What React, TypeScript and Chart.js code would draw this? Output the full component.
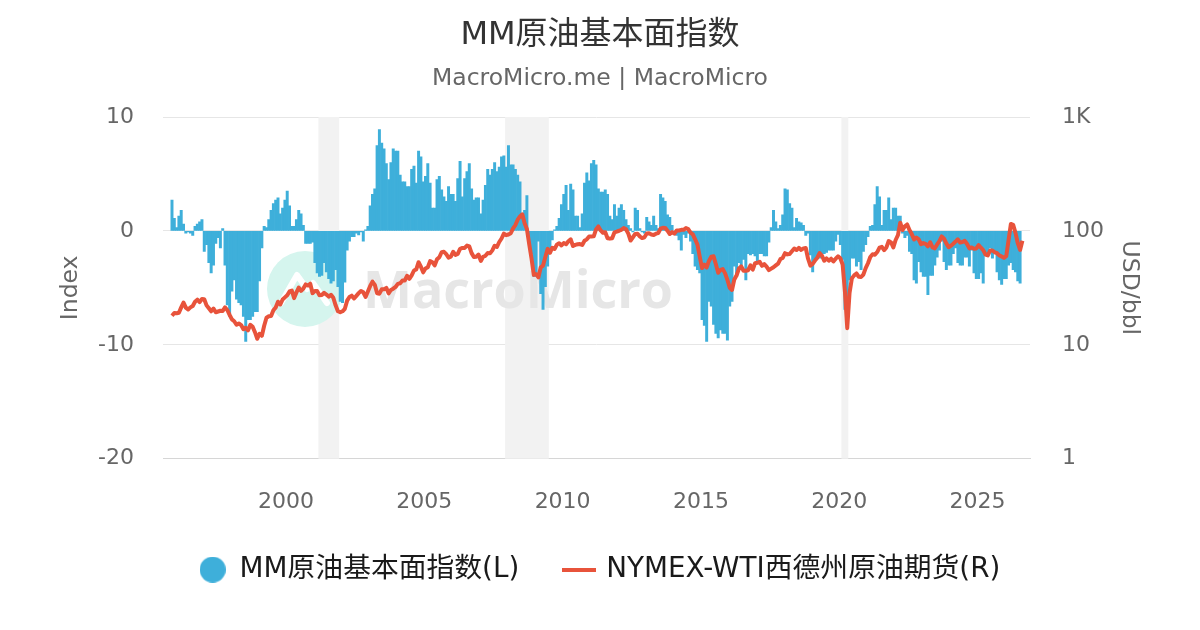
import React, { useRef, useEffect } from "react";
import Chart from "chart.js/auto";

const FONT = "'DejaVu Sans', 'Noto Sans CJK SC', sans-serif";

// monthly series, first value = Nov 1995
const startYear = 1995;
const startMonth = 10;

// MM原油基本面指数 (left axis)
const indexValues = [
  2.7, 1.1,
  0.3, 1.3, 1.8, 0.6, -0.2, -0.1, -0.2, -0.4, 0.4, 0.6, 0.8, 1.0,
  -1.8, -1.2, -2.8, -3.7, -3.0, -1.1, -0.6, -1.5, 0.2, -3.0, -6.5, -7.5,
  -5.3, -4.3, -6.0, -6.3, -6.5, -7.5, -9.7, -7.8, -7.8, -7.5, -7.1, -7.1,
  -4.4, -1.5, 0.4, 0.3, 1.0, 1.8, 2.4, 2.7, 2.9, 1.5, 2.0, 2.7,
  3.5, 2.2, 0.4, 0.4, 1.0, 1.8, 1.5, 0.5, -1.1, -1.1, -1.1, -1.0,
  -2.8, -3.7, -4.0, -3.9, -2.8, -3.6, -4.2, -4.6, -4.4, -3.4, -4.9, -6.2,
  -6.3, -4.5, -1.7, -0.9, -0.5, -0.5, -0.2, -0.35, -0.1, -0.9, 0.1, 0.4,
  2.2, 3.2, 3.7, 7.5, 8.9, 7.7, 7.2, 5.9, 4.5, 6.0, 7.2, 7.0,
  7.0, 4.9, 4.3, 4.3, 3.9, 3.9, 5.4, 5.7, 4.2, 7.0, 6.5, 4.3,
  4.8, 5.9, 4.2, 2.0, 2.0, 4.5, 4.8, 3.6, 3.0, 2.6, 3.9, 3.2,
  3.2, 2.6, 4.6, 6.1, 3.0, 4.6, 5.2, 5.9, 3.7, 2.7, 2.9, 2.9,
  1.5, 2.7, 4.0, 5.4, 4.9, 5.4, 6.0, 5.2, 5.6, 6.5, 6.6, 5.6,
  7.5, 5.8, 5.8, 5.4, 4.9, 4.3, 1.5, 1.8, 3.1, -0.5, -2.0, -4.0,
  -4.0, -0.9, -5.5, -6.9, -4.9, -3.1, -1.7, -0.8, 0.1, 0.4, 1.1, 2.3,
  3.2, 4.0, 1.8, 4.1, 3.6, 1.3, 1.3, 0.3, 1.5, 4.2, 5.1, 4.4,
  5.9, 6.2, 5.8, 3.7, 3.4, 3.4, 3.6, 3.2, 1.3, 1.0, 2.3, 1.3,
  2.0, 2.3, 1.8, 1.0, 0.5, 0.2, -0.1, 2.0, 1.8, 0.2, -0.1, -0.2,
  1.2, 0.8, 0.5, 1.3, 0.5, 0.2, 3.2, 2.9, 2.6, 1.4, 1.2, 0.5,
  -0.2, -0.4, -0.8, -1.7, -0.3, -0.6, -0.2, -0.9, -2.0, -3.1, -3.4, -3.7,
  -7.8, -8.3, -9.7, -6.2, -6.6, -8.2, -9.0, -9.4, -8.7, -9.0, -9.0, -9.6,
  -6.6, -6.2, -3.1, -4.0, -2.8, -3.4, -2.5, -4.3, -2.0, -2.1, -2.0, -2.2,
  -2.7, -2.0, -2.0, -2.2, -2.2, -1.0, 0.3, 1.8, 0.8, 0.2, 0.5, 1.4,
  3.7, 3.6, 2.4, 2.0, 0.3, 1.1, 0.8, 0.7, 0.5, -0.4, -0.2, -2.1,
  -3.6, -2.6, -2.4, -2.4, -2.0, -2.0, -1.9, -1.7, -1.7, -1.7, -0.9, -0.3,
  -1.2, -2.5, -6.9, -7.5, -4.3, -2.4, -2.4, -3.1, -2.7, -3.4, -1.8, -1.2,
  -0.5, 0.4, 0.5, 2.3, 3.9, 3.0, 0.5, 1.8, 1.8, 2.9, 1.0, 2.0,
  2.0, 1.3, 1.3, -0.2, -0.6, -0.4, -1.8, -2.0, -4.3, -4.6, -2.7, -3.6,
  -4.0, -4.0, -5.6, -3.9, -3.9, -3.0, -2.3, -1.7, -0.9, -2.7, -3.4, -3.0,
  -3.0, -2.0, -1.5, -2.8, -3.0, -3.0, -2.3, -2.3, -3.1, -1.7, -3.7, -4.2,
  -4.2, -3.7, -4.6, -2.1, -2.1, -1.5, -2.4, -2.0, -3.6, -4.3, -4.7, -4.2,
  -4.2, -3.0, -2.8, -3.4, -3.6, -4.4, -4.6,
];

// NYMEX-WTI西德州原油期货, USD/bbl (right axis, log)
const wtiValues = [
  18.0, 19.0,
  18.9, 19.1, 21.3, 23.5, 21.2, 20.4, 21.3, 21.9, 23.9, 24.9, 23.7, 25.2,
  25.1, 22.2, 20.9, 19.7, 20.8, 19.3, 19.6, 19.9, 19.8, 21.3, 20.2, 18.3,
  16.7, 16.1, 15.0, 15.4, 14.9, 13.7, 14.1, 13.4, 15.0, 14.4, 12.9, 11.3,
  12.5, 12.0, 14.7, 17.3, 17.8, 17.9, 20.1, 21.3, 23.9, 22.6, 25.0, 26.1,
  27.2, 29.4, 29.9, 25.7, 28.8, 31.8, 29.7, 31.2, 33.9, 33.1, 34.4, 28.4,
  29.6, 29.6, 27.2, 27.4, 28.6, 27.6, 26.5, 27.5, 25.9, 22.2, 19.7, 19.3,
  19.7, 20.7, 24.4, 26.3, 27.0, 25.5, 26.9, 28.4, 29.7, 28.9, 26.3, 29.4,
  32.9, 35.9, 33.6, 28.3, 28.1, 30.7, 30.8, 31.6, 28.3, 30.3, 31.1, 32.2,
  34.3, 34.7, 36.7, 36.7, 40.3, 38.0, 40.7, 44.9, 45.9, 53.1, 48.5, 43.3,
  46.8, 48.0, 54.3, 53.0, 49.8, 56.3, 58.7, 65.0, 65.6, 62.4, 58.3, 59.4,
  65.5, 61.6, 62.9, 69.7, 70.9, 70.9, 74.4, 73.0, 63.8, 58.9, 59.4, 62.0,
  54.5, 59.3, 60.4, 63.9, 63.5, 67.5, 74.1, 72.4, 79.9, 85.8, 94.8, 91.7,
  93.0, 95.4, 105.4, 112.6, 125.4, 134.0, 140.0, 116.7, 104.1, 76.6, 57.3, 41.1,
  41.7, 39.1, 47.9, 49.6, 59.0, 69.6, 64.2, 71.1, 69.4, 75.7, 78.0, 74.5,
  78.3, 76.4, 81.2, 84.3, 73.7, 75.3, 76.3, 76.6, 75.2, 81.9, 84.3, 89.2,
  89.5, 89.6, 102.9, 109.5, 100.9, 96.3, 97.3, 86.3, 85.5, 86.3, 97.2, 98.6,
  100.3, 102.2, 106.2, 103.3, 94.7, 82.3, 87.9, 94.1, 94.5, 89.5, 86.5, 87.9,
  94.8, 95.3, 92.9, 92.0, 94.5, 95.8, 104.6, 106.6, 106.3, 100.5, 93.9, 97.6,
  94.6, 100.8, 100.8, 102.1, 102.2, 105.8, 103.6, 96.5, 93.2, 84.4, 75.8, 59.3,
  47.2, 50.6, 47.8, 54.5, 59.3, 59.8, 50.9, 42.9, 45.5, 46.2, 42.4, 37.2,
  31.7, 30.3, 37.5, 40.8, 46.7, 48.8, 44.7, 44.7, 45.2, 49.8, 45.7, 52.0,
  52.5, 53.5, 49.3, 51.1, 48.5, 45.2, 46.6, 48.0, 49.8, 51.6, 56.6, 57.9,
  63.7, 62.2, 62.7, 66.3, 70.0, 67.9, 71.0, 68.1, 70.2, 70.8, 57.0, 49.5,
  51.4, 54.9, 58.2, 63.9, 60.8, 54.7, 57.4, 54.8, 57.0, 54.0, 57.0, 59.9,
  57.5, 50.5, 29.2, 14.0, 28.6, 38.3, 40.7, 42.3, 39.6, 39.4, 41.4, 47.1,
  52.0, 59.0, 62.3, 61.7, 65.2, 71.4, 72.4, 67.7, 71.6, 81.5, 79.2, 71.7,
  83.2, 91.6, 118.0, 101.8, 109.6, 114.0, 101.6, 93.7, 84.3, 87.6, 84.4, 76.4,
  78.1, 76.8, 73.3, 79.4, 71.6, 70.3, 76.0, 81.4, 89.4, 85.6, 77.7, 71.9,
  74.2, 77.2, 80.6, 84.4, 79.0, 79.8, 81.8, 76.7, 70.2, 71.6, 69.7, 70.1,
  75.1, 71.2, 67.9, 62.0, 61.0, 67.3, 67.3, 64.9, 63.7, 60.9, 59.6, 58.0,
  60.0, 83.0, 115.0, 113.0, 96.0, 78.0, 68.0, 82.0,
];

const xTickYears = [2000, 2005, 2010, 2015, 2020, 2025];
const leftTicks = [-20, -10, 0, 10];
const rightTicks = [1, 10, 100, 1000];

// grey bands (year fractions)
const recessions = [
  [2001.17, 2001.92],
  [2007.92, 2009.5],
  [2020.08, 2020.33],
];

const monthX = (i: number) => startYear + (startMonth + i) / 12 + 1 / 24;

const backdrop = {
  id: "backdrop",
  beforeDatasetsDraw(chart: any) {
    const { ctx, chartArea, scales } = chart;
    ctx.save();
    ctx.fillStyle = "#f2f2f2";
    recessions.forEach(([a, b]) => {
      const x1 = scales.x.getPixelForValue(a);
      const x2 = scales.x.getPixelForValue(b);
      ctx.fillRect(x1, chartArea.top, x2 - x1, chartArea.bottom - chartArea.top);
    });

    // watermark logo
    const cx = chartArea.left + 142;
    const cy = chartArea.top + 172;
    ctx.fillStyle = "#d5f5ee";
    ctx.beginPath();
    ctx.arc(cx, cy, 38, 0, Math.PI * 2);
    ctx.fill();
    ctx.strokeStyle = "#ffffff";
    ctx.lineWidth = 6;
    ctx.lineJoin = "round";
    ctx.lineCap = "round";
    ctx.beginPath();
    ctx.moveTo(cx - 24, cy + 14);
    ctx.lineTo(cx - 8, cy - 14);
    ctx.lineTo(cx + 2, cy);
    ctx.lineTo(cx + 8, cy - 6);
    ctx.lineTo(cx + 22, cy + 14);
    ctx.stroke();

    ctx.font = "bold 52px 'Open Sans', sans-serif";
    ctx.fillStyle = "#e6e6e6";
    ctx.textBaseline = "alphabetic";
    const text = "MacroMicro";
    const w = ctx.measureText(text).width;
    const tx = chartArea.left + 200;
    const ty = chartArea.top + 191;
    ctx.translate(tx, ty);
    ctx.scale(310 / w, 1);
    ctx.fillText(text, 0, 0);
    ctx.restore();
  },
};

const makeIcon = (kind: "circle" | "line", color: string) => {
  const c = document.createElement("canvas");
  const g = c.getContext("2d")!;
  if (kind === "circle") {
    c.width = 26;
    c.height = 26;
    g.fillStyle = color;
    g.beginPath();
    g.arc(13, 13, 13, 0, Math.PI * 2);
    g.fill();
  } else {
    c.width = 34;
    c.height = 4;
    g.fillStyle = color;
    g.fillRect(0, 0, 34, 4);
  }
  return c;
};

const App = () => {
  const chartRef = useRef<HTMLCanvasElement>(null);
  const chartInstance = useRef<Chart | null>(null);

  useEffect(() => {
    document.body.style.margin = "0";
    if (!chartRef.current) return;
    Chart.defaults.font.family = FONT;

    const blue = "#3eafda";
    const red = "#e8533b";
    const icons = [makeIcon("circle", blue), makeIcon("line", red)];

    chartInstance.current = new Chart(chartRef.current, {
      type: "bar",
      data: {
        datasets: [
          {
            type: "bar",
            label: "MM原油基本面指数(L)",
            data: indexValues.map((v, i) => ({ x: monthX(i), y: v })),
            backgroundColor: blue,
            borderWidth: 0,
            barPercentage: 1,
            categoryPercentage: 1,
            yAxisID: "y",
            order: 2,
          },
          {
            type: "line",
            label: "NYMEX-WTI西德州原油期货(R)",
            data: wtiValues.map((v, i) => ({ x: monthX(i), y: v })),
            borderColor: red,
            backgroundColor: red,
            borderWidth: 4,
            borderJoinStyle: "round",
            pointRadius: 0,
            tension: 0,
            yAxisID: "y1",
            order: 1,
          },
        ] as any,
      },
      options: {
        animation: false,
        responsive: true,
        maintainAspectRatio: false,
        events: [],
        layout: { padding: { top: 0, bottom: 36.5, left: 0, right: 0 } },
        plugins: {
          title: {
            display: true,
            text: "MM原油基本面指数",
            color: "#333333",
            font: { size: 32, weight: "normal" },
            padding: { top: 16.4, bottom: 10 },
          },
          subtitle: {
            display: true,
            text: "MacroMicro.me | MacroMicro",
            color: "#666666",
            font: { size: 23.5, weight: "normal" },
            padding: { top: 0, bottom: 24 },
          },
          legend: {
            position: "bottom",
            labels: {
              usePointStyle: true,
              pointStyleWidth: 26,
              boxHeight: 27.8,
              padding: 47,
              color: "#1a1a1a",
              font: { size: 27.8 },
              sort: (a: any, b: any) => a.datasetIndex - b.datasetIndex,
              generateLabels: (chart: any) => {
                const items = (Chart as any).defaults.plugins.legend.labels.generateLabels(chart);
                items.forEach((it: any) => {
                  it.pointStyle = icons[it.datasetIndex];
                });
                return items;
              },
            },
          },
          tooltip: { enabled: false },
        },
        scales: {
          x: {
            type: "linear",
            min: 1995.55,
            max: 2026.9,
            offset: false,
            grid: { display: false, drawTicks: false, offset: false },
            border: { display: true, color: "#d6d6d6" },
            afterBuildTicks: (axis: any) => {
              axis.ticks = xTickYears.map((v) => ({ value: v }));
            },
            afterFit: (axis: any) => {
              axis.height = 50;
            },
            ticks: {
              color: "#666666",
              font: { size: 22 },
              padding: 30,
              maxRotation: 0,
              callback: (v: any) => String(v),
            },
          },
          y: {
            position: "left",
            min: -20,
            max: 10,
            grid: { color: "#e6e6e6", drawTicks: false },
            border: { display: false },
            afterBuildTicks: (axis: any) => {
              axis.ticks = leftTicks.map((v) => ({ value: v }));
            },
            afterFit: (axis: any) => {
              axis.width = 163;
            },
            ticks: {
              color: "#666666",
              font: { size: 22 },
              padding: 29,
              callback: (v: any) => String(v),
            },
            title: {
              display: true,
              text: "Index",
              color: "#666666",
              font: { size: 23.5 },
              padding: { top: 57, bottom: 0 },
            },
          },
          y1: {
            type: "logarithmic",
            position: "right",
            min: 1,
            max: 1000,
            grid: { display: false, drawTicks: false },
            border: { display: false },
            afterBuildTicks: (axis: any) => {
              axis.ticks = rightTicks.map((v) => ({ value: v }));
            },
            afterFit: (axis: any) => {
              axis.width = 170;
            },
            ticks: {
              color: "#666666",
              font: { size: 22 },
              padding: 32,
              callback: (v: any) => (v >= 1000 ? v / 1000 + "K" : String(v)),
            },
            title: {
              display: true,
              text: "USD/bbl",
              color: "#666666",
              font: { size: 23.5 },
              padding: { top: 57, bottom: 0 },
            },
          },
        },
      } as any,
      plugins: [backdrop],
    });

    return () => {
      chartInstance.current?.destroy();
    };
  }, []);

  return (
    <div
      style={{
        position: "fixed",
        left: 0,
        top: 0,
        width: 1200,
        height: 630,
        background: "#ffffff",
      }}
    >
      <canvas ref={chartRef} />
    </div>
  );
};

export default App;
